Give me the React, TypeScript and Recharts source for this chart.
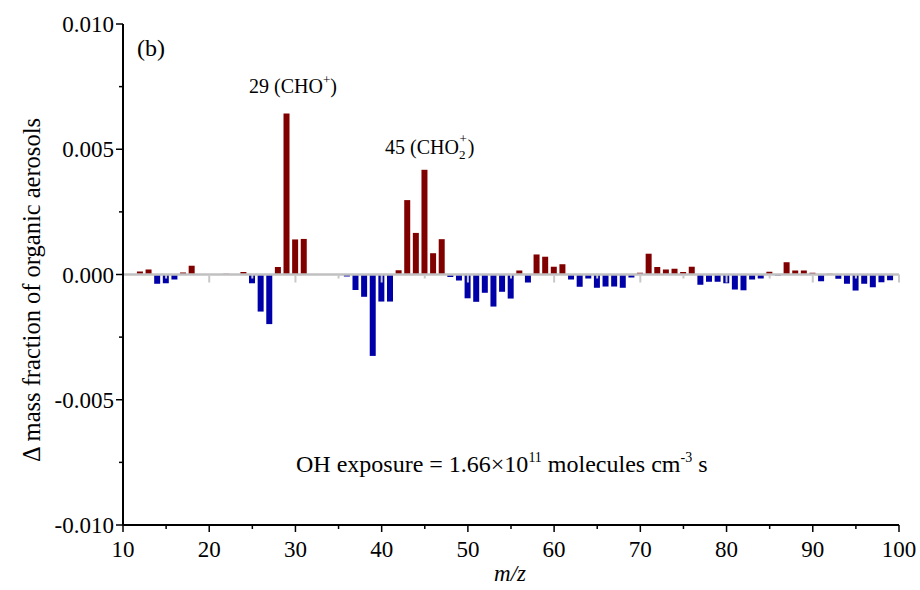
import { BarChart, Bar, XAxis, YAxis, Cell, ReferenceLine } from 'recharts';

// m/z values and the change in mass fraction
const massToCharge = [
  12, 13, 14, 15, 16, 17, 18, 19, 20, 21, 22, 23, 24, 25, 26, 27, 28, 29, 30, 31,
  32, 33, 34, 35, 36, 37, 38, 39, 40, 41, 42, 43, 44, 45, 46, 47, 48, 49, 50, 51,
  52, 53, 54, 55, 56, 57, 58, 59, 60, 61, 62, 63, 64, 65, 66, 67, 68, 69, 70, 71,
  72, 73, 74, 75, 76, 77, 78, 79, 80, 81, 82, 83, 84, 85, 86, 87, 88, 89, 90, 91,
  92, 93, 94, 95, 96, 97, 98, 99,
];

const deltaMassFraction = [
  0.00012, 0.0002, -0.00037, -0.00035, -0.0002, 0.00008, 0.00035, 0, 0, 0,
  0.00003, 0, 0.0001, -0.00035, -0.00148, -0.00198, 0.0003, 0.00643, 0.0014, 0.00142,
  0, 0, 0, 0, -0.00008, -0.00062, -0.00089, -0.00325, -0.00108, -0.00108,
  0.00017, 0.00297, 0.00166, 0.00418, 0.00085, 0.00141, -0.0001, -0.00024, -0.00095, -0.00109,
  -0.00073, -0.00128, -0.00069, -0.00096, 0.00016, -0.00032, 0.0008, 0.00071, 0.00031, 0.00041,
  -0.0002, -0.00049, -0.00016, -0.00053, -0.00048, -0.00048, -0.00053, -0.00012, 0.00007, 0.00083,
  0.0003, 0.0002, 0.00023, 0.0001, 0.00031, -0.00041, -0.00029, -0.00029, -0.00035, -0.0006,
  -0.00063, -0.0002, -0.00016, 0.00011, -0.00004, 0.00049, 0.00016, 0.00016, 0.00007, -0.00027,
  0.00003, -0.00017, -0.00037, -0.00064, -0.00037, -0.00051, -0.00031, -0.00023,
];

const xTicks = [10, 15, 20, 25, 30, 35, 40, 45, 50, 55, 60, 65, 70, 75, 80, 85, 90, 95, 100];
const yTicks = [-0.01, -0.0075, -0.005, -0.0025, 0, 0.0025, 0.005, 0.0075, 0.01];
const zeroLineTicks = [15, 20, 25, 30, 35, 40, 45, 50, 55, 60, 65, 70, 75, 80, 85, 90, 95, 100];

const RED = '#800000';
const BLUE = '#0000a8';
const FONT = '"Liberation Serif", "Times New Roman", serif';

const data = massToCharge.map((mz, i) => ({ mz, delta: deltaMassFraction[i] }));

function XTick(props: any) {
  const { x, y, payload } = props;
  const major = payload.value % 10 === 0;
  return (
    <g>
      <line x1={x} x2={x} y1={y} y2={y + (major ? 7 : 4)} stroke="#000" strokeWidth={1.5} />
      {major && (
        <text x={x} y={y + 32} textAnchor="middle" fontFamily={FONT} fontSize={23} fill="#000">
          {payload.value}
        </text>
      )}
    </g>
  );
}

function YTick(props: any) {
  const { x, y, payload } = props;
  const v = payload.value;
  const major = Math.abs(v * 200 - Math.round(v * 200)) < 1e-6;
  return (
    <g>
      <line x1={x - (major ? 7 : 4)} x2={x} y1={y} y2={y} stroke="#000" strokeWidth={1.5} />
      {major && (
        <text x={x - 9} y={y + 8} textAnchor="end" fontFamily={FONT} fontSize={23} fill="#000">
          {v.toFixed(3)}
        </text>
      )}
    </g>
  );
}

export default function App() {
  return (
    <div style={{ position: 'absolute', left: 0, top: 0, width: 920, height: 590, background: '#fff' }}>
      <BarChart
        width={920}
        height={590}
        data={data}
        margin={{ top: 24, right: 21, left: 0, bottom: 0 }}
      >
        <XAxis
          dataKey="mz"
          type="number"
          domain={[10, 100]}
          ticks={xTicks}
          interval={0}
          height={65}
          tickSize={0}
          tickMargin={0}
          tickLine={false}
          tick={<XTick />}
          axisLine={{ stroke: '#000', strokeWidth: 2 }}
        />
        <YAxis
          type="number"
          domain={[-0.01, 0.01]}
          ticks={yTicks}
          interval={0}
          width={123}
          tickSize={0}
          tickMargin={0}
          tickLine={false}
          tick={<YTick />}
          axisLine={{ stroke: '#000', strokeWidth: 2 }}
          allowDataOverflow
        />
        <Bar dataKey="delta" barSize={6} isAnimationActive={false}>
          {data.map((d) => (
            <Cell key={d.mz} fill={d.delta >= 0 ? RED : BLUE} />
          ))}
        </Bar>
        <ReferenceLine y={0} stroke="#c0c0c0" strokeWidth={2.5} />
        {zeroLineTicks.map((t) => (
          <ReferenceLine
            key={t}
            segment={[{ x: t, y: 0 }, { x: t, y: t % 10 === 0 ? -0.00032 : -0.00016 }]}
            stroke="#c8c8c8"
            strokeWidth={2}
          />
        ))}
      </BarChart>

      {/* titles and annotations */}
      <svg
        width={920}
        height={590}
        style={{ position: 'absolute', left: 0, top: 0, pointerEvents: 'none' }}
        fontFamily={FONT}
        fill="#000"
      >
        <text x={32} y={290} fontSize={24.5} textAnchor="middle" transform="rotate(-90 32 290)" dy={8}>
          Δ mass fraction of organic aerosols
        </text>
        <text x={510} y={581} fontSize={23} textAnchor="middle" fontStyle="italic">
          m/z
        </text>
        <text x={137} y={56} fontSize={24}>(b)</text>
        <text x={249} y={93} fontSize={20}>
          29 (CHO<tspan fontSize={13} dy={-9}>+</tspan><tspan dy={9}>)</tspan>
        </text>
        <text x={385} y={154} fontSize={20}>
          45 (CHO<tspan fontSize={13} dy={5}>2</tspan>
          <tspan fontSize={13} dx={-6} dy={-16}>+</tspan>
          <tspan dx={1} dy={11}>)</tspan>
        </text>
        <text x={296} y={472} fontSize={24}>
          OH exposure = 1.66×10<tspan fontSize={14} dy={-10}>11</tspan>
          <tspan dy={10}> molecules cm</tspan>
          <tspan fontSize={14} dy={-10}>-3</tspan>
          <tspan dy={10}> s</tspan>
        </text>
      </svg>
    </div>
  );
}
